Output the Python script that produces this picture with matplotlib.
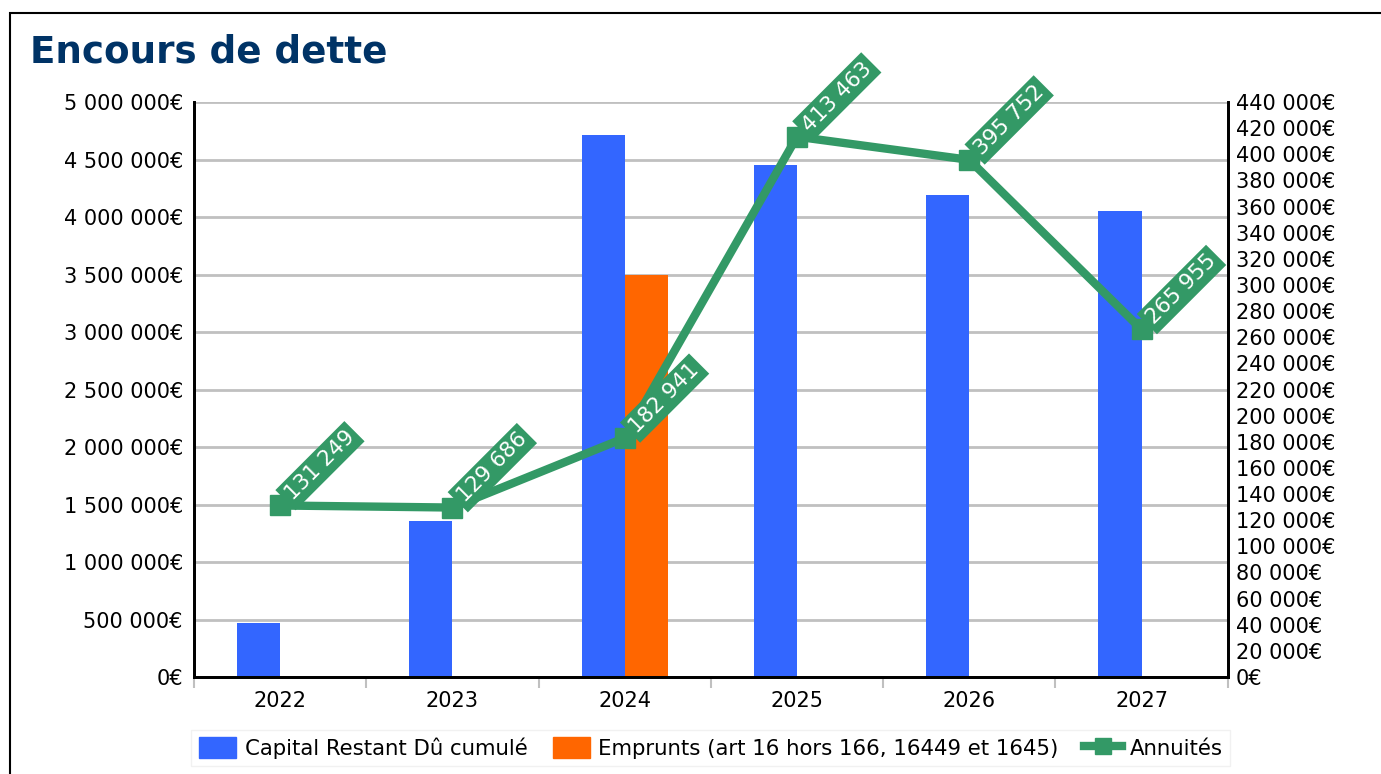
import numpy as np
import matplotlib.pyplot as plt
from matplotlib.patches import Rectangle
from matplotlib.lines import Line2D
from matplotlib.ticker import FuncFormatter, MultipleLocator

# Donnees
annees = ["2022", "2023", "2024", "2025", "2026", "2027"]
capital = [470000, 1357000, 4713000, 4452000, 4191000, 4052000]
emprunts = [0, 0, 3500000, 0, 0, 0]
annuites = [131249, 129686, 182941, 413463, 395752, 265955]

bleu = "#3366ff"
orange = "#ff6600"
vert = "#339966"


def euros(v, pos=None):
    return f"{v:,.0f}".replace(",", " ") + "€"


fig = plt.figure(figsize=(13.81, 7.74), dpi=100)
ax = fig.add_axes([0.1405, 0.1253, 0.7485, 0.7429])
ax2 = ax.twinx()

x = np.arange(len(annees))
w = 0.25
ax.bar(x - w / 2, capital, w, color=bleu, zorder=2)
ax.bar(x + w / 2, emprunts, w, color=orange, zorder=2)

ax.set_xlim(-0.5, len(annees) - 0.5)
ax.set_ylim(0, 5000000)
ax.yaxis.set_major_locator(MultipleLocator(500000))
ax.yaxis.set_major_formatter(FuncFormatter(euros))
ax.grid(axis="y", color="#c0c0c0", linewidth=2, zorder=0)
ax.set_axisbelow(True)

ax2.set_ylim(0, 440000)
ax2.yaxis.set_major_locator(MultipleLocator(20000))
ax2.yaxis.set_major_formatter(FuncFormatter(euros))

ax2.plot(x, annuites, color=vert, linewidth=6, marker="s", markersize=15, zorder=3)
for xi, v in zip(x, annuites):
    ax2.annotate(f"{v:,}".replace(",", " "), (xi, v), xytext=(6, 6),
                 textcoords="offset points", rotation=45, rotation_mode="anchor",
                 ha="left", va="center", color="white", fontsize=15.5,
                 bbox=dict(boxstyle="square,pad=0.2", fc=vert, ec="none"),
                 zorder=4)

# ticks x aux limites des categories
ax.set_xticks(x)
ax.set_xticklabels(annees, fontsize=15)
ax.set_xticks(np.arange(-0.5, len(annees)), minor=True)
ax.tick_params(axis="x", which="major", length=0, pad=10)
ax.tick_params(axis="x", which="minor", length=8, width=1.5, color="#c0c0c0")
ax.tick_params(axis="y", length=0, labelsize=15, pad=8)
ax2.tick_params(axis="y", length=0, labelsize=15, pad=6)

for a in (ax, ax2):
    a.spines["top"].set_visible(False)
    for s in ("left", "right", "bottom"):
        a.spines[s].set_linewidth(2)
        a.spines[s].set_color("black")

fig.text(0.022, 0.933, "Encours de dette", fontsize=26.8, fontweight="bold",
         color="#003366", va="center", ha="left")

# cadre exterieur
fig.patches.append(Rectangle((10 / 1381, -0.1), 1.2, 0.1 + (774 - 13) / 774,
                             transform=fig.transFigure, fill=False,
                             edgecolor="black", linewidth=1.5))

handles = [
    Rectangle((0, 0), 1, 1, color=bleu),
    Rectangle((0, 0), 1, 1, color=orange),
    Line2D([0], [0], color=vert, linewidth=6, marker="s", markersize=12),
]
labels = ["Capital Restant Dû cumulé", "Emprunts (art 16 hors 166, 16449 et 1645)", "Annuités"]
leg = fig.legend(handles, labels, loc="center", bbox_to_anchor=(0.5148, 0.0336),
                 ncol=3, fontsize=15.3, frameon=True, fancybox=False,
                 handlelength=1.75, handleheight=1.1, handletextpad=0.4,
                 columnspacing=1.2, borderpad=0.35)
leg.get_frame().set_edgecolor("#eeeeee")
leg.get_frame().set_linewidth(1)

plt.savefig("out.png", dpi=100)
